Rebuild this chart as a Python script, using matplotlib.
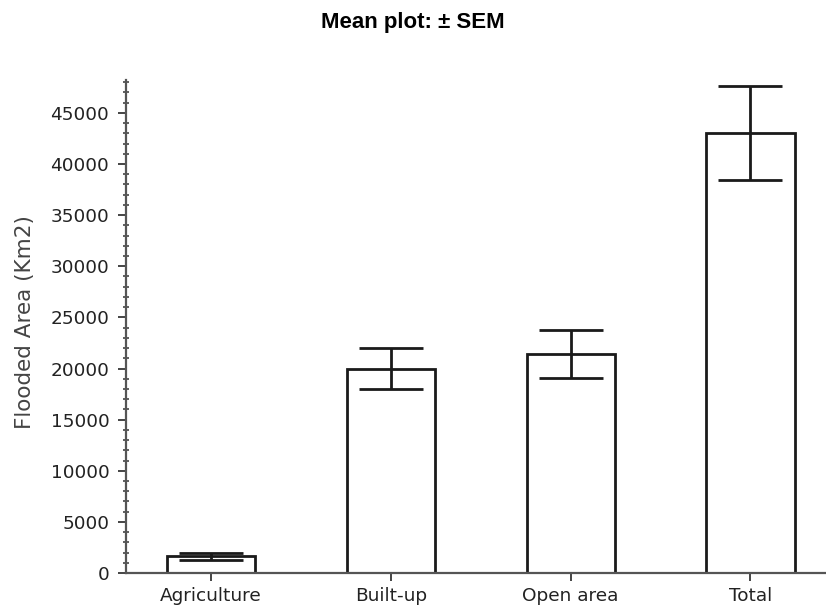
import matplotlib
matplotlib.use("Agg")
import matplotlib.pyplot as plt
from matplotlib.ticker import MultipleLocator

plt.rcParams["font.family"] = ["DejaVu Sans"]

categories = ["Agriculture", "Built-up", "Open area", "Total"]
means = [1650, 20000, 21400, 43000]
sems = [330, 2050, 2350, 4600]

fig = plt.figure(figsize=(8.26, 6.12), dpi=100)
ax = fig.add_axes([0.1525, 0.0637, 0.8475, 0.8053])

x = list(range(len(categories)))
ax.bar(x, means, width=0.49, facecolor="white", edgecolor="#1a1a1a", linewidth=2.0, zorder=2)
ax.errorbar(x, means, yerr=sems, fmt="none", ecolor="#1a1a1a", elinewidth=2.0,
            capsize=23, capthick=2.0, zorder=3)

ax.set_xlim(-0.473, 3.42)
ax.set_ylim(0, 48200)
ax.set_xticks(x)
ax.set_xticklabels(categories)
ax.yaxis.set_major_locator(MultipleLocator(5000))
ax.yaxis.set_minor_locator(MultipleLocator(1000))

for side in ("top", "right"):
    ax.spines[side].set_visible(False)
for side in ("left", "bottom"):
    ax.spines[side].set_color("#555555")
    ax.spines[side].set_linewidth(1.6)

ax.tick_params(axis="both", which="major", length=6, width=1.4, color="#444444",
               labelsize=13.3, labelcolor="#222222")
ax.tick_params(axis="y", which="major", pad=6)
ax.tick_params(axis="y", which="minor", direction="inout", length=5, width=1.2, color="#444444")
ax.tick_params(axis="x", which="major", pad=4)

ax.set_ylabel("Flooded Area (Km2)", fontsize=15.5, color="#444444")
ax.yaxis.set_label_coords(-0.13, 0.51)
fig.text(0.5, 0.98, "Mean plot: \u00b1 SEM", ha="center", va="top", fontsize=16,
         fontweight="bold", family="Liberation Sans")

fig.savefig("out.png", dpi=100)
